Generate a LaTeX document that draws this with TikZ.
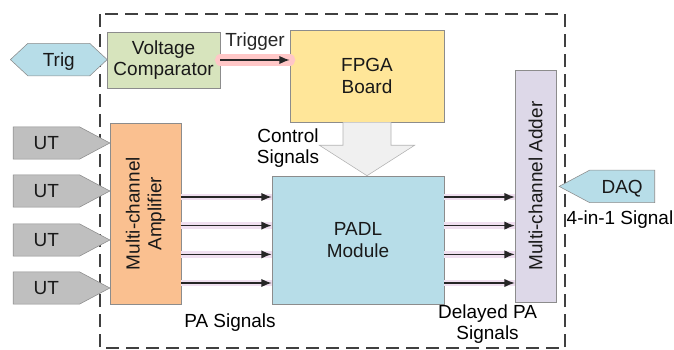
\documentclass[tikz,border=0pt]{standalone}
\usepackage{fontspec}
\setmainfont{Liberation Sans}
\usetikzlibrary{shapes.symbols, arrows.meta, calc}
\definecolor{padlblue}{HTML}{B7DDE8}
\definecolor{compgreen}{HTML}{D7E4BD}
\definecolor{fpgayellow}{HTML}{FFE699}
\definecolor{amporange}{HTML}{FAC090}
\definecolor{adderlilac}{HTML}{DDD8E8}
\definecolor{utgrey}{HTML}{BFBFBF}

\begin{document}
\begin{tikzpicture}[font=\fontsize{13.5}{15.5}\selectfont, >={Latex[length=2.6mm,width=2.1mm]},
    block/.style={draw=black!45, rectangle, align=center, text=black!90, inner sep=1pt},
    port/.style={draw=black!45, signal, signal pointer angle=56, text height=0.34cm, text depth=0cm,
        inner ysep=0.235cm, inner xsep=0.51cm, text=black!90},
    sig/.style={->, line width=1.1pt, black!85, preaction={draw, -, line width=4.5pt, violet!12}},
    trig/.style={->, line width=1.1pt, black!85, preaction={draw, -, line width=8pt, line cap=round, red!22}},
    ctrl/.style={draw=black!30, fill=black!6}]
    \useasboundingbox (0,0) rectangle (16.85,-8.75);
    \draw[black!75, line width=1.1pt, dash pattern=on 3.2mm off 1.8mm] (2.5,-0.35) rectangle (14.125,-8.7);

    \node[block, fill=compgreen, minimum width=2.83cm, minimum height=1.4cm] (comp) at (4.09,-1.5) {Voltage\\Comparator};
    \node[block, fill=fpgayellow, minimum width=3.85cm, minimum height=2.3cm] (fpga) at (9.175,-1.9) {FPGA\\Board};
    \node[block, fill=amporange, rotate=90, minimum width=4.525cm, minimum height=1.775cm] (amp) at (3.64,-5.34) {Multi-channel\\Amplifier};
    \node[block, fill=padlblue, minimum width=4.3cm, minimum height=3.2cm] (padl) at (8.95,-6.0) {PADL\\Module};
    \node[block, fill=adderlilac, rotate=90, minimum width=5.8cm, minimum height=1.025cm] (adder) at (13.39,-4.65) {Multi-channel Adder};

    \node[port, fill=padlblue, signal to=east and west, signal pointer angle=86, inner xsep=0.375cm] (trg) at (1.47,-1.49) {Trig};
    \foreach \y [count=\i] in {-3.575,-4.775,-6.0,-7.2}
        \node[port, fill=utgrey, anchor=west] (ut\i) at (0.325,\y) {UT};
    \node[port, fill=padlblue, signal to=west, inner xsep=0.3cm, anchor=east] (daq) at (16.375,-4.66) {DAQ};

    \draw[trig] (comp.east) -- node[above=0.1cm]{Trigger} (comp.east -| fpga.west);
    \draw[ctrl] ($(fpga.south)+(-0.6,0)$) -- ($(fpga.south)+(-0.6,-0.575)$) -- ($(fpga.south)+(-1.19,-0.575)$)
        -- (fpga.south |- padl.north) -- ($(fpga.south)+(1.19,-0.575)$) -- ($(fpga.south)+(0.6,-0.575)$) -- ($(fpga.south)+(0.6,0)$);
    \foreach \d [count=\i] in {1.075,0.36,-0.36,-1.075} {
        \coordinate (in\i) at ($(padl.west)+(0,\d)$);
        \draw[sig] (amp.south |- in\i) -- (in\i);
        \draw[sig] (in\i -| padl.east) -- (in\i -| adder.north);
    }

    \node[align=center] (ctrllbl) at (7.2,-3.7) {Control\\Signals};
    \node (palbl) at (5.75,-8.075) {PA Signals};
    \node[align=center] (dlylbl) at (12.19,-8.1) {Delayed PA\\Signals};
    \node (sumlbl) at (15.5,-5.5) {4-in-1 Signal};
\end{tikzpicture}
\end{document}
